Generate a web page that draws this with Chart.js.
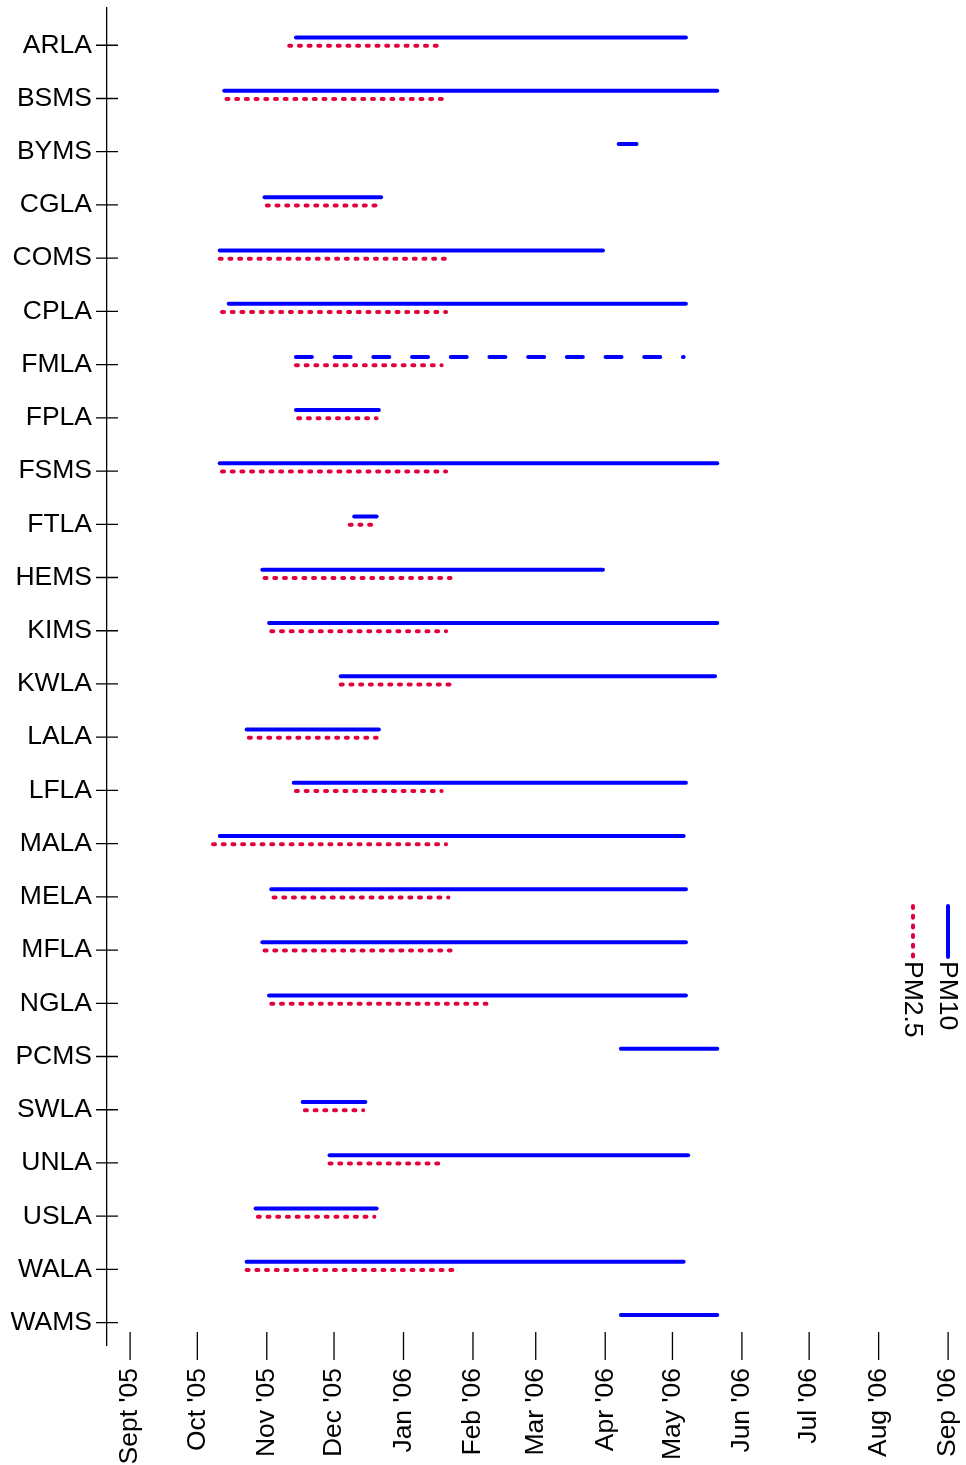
<!DOCTYPE html>
<html>
<head>
<meta charset="utf-8">
<script src="https://cdn.jsdelivr.net/npm/chart.js@4.4.1/dist/chart.umd.min.js"></script>
<style>
  html, body { margin: 0; padding: 0; background: #fff; }
  #wrap { width: 966px; height: 1465px; }
</style>
</head>
<body>
<div id="wrap"><canvas id="chart"></canvas></div>
<script>
const stations = ['ARLA', 'BSMS', 'BYMS', 'CGLA', 'COMS', 'CPLA', 'FMLA', 'FPLA', 'FSMS', 'FTLA',
  'HEMS', 'KIMS', 'KWLA', 'LALA', 'LFLA', 'MALA', 'MELA', 'MFLA', 'NGLA', 'PCMS',
  'SWLA', 'UNLA', 'USLA', 'WALA', 'WAMS'];

const pm10Start = ['2005-11-14', '2005-10-13', '2006-04-07', '2005-10-31', '2005-10-11', '2005-10-15', '2005-11-14', '2005-11-14', '2005-10-11', '2005-12-10',
  '2005-10-30', '2005-11-02', '2005-12-04', '2005-10-23', '2005-11-13', '2005-10-11', '2005-11-03', '2005-10-30', '2005-11-02', '2006-04-08',
  '2005-11-17', '2005-11-29', '2005-10-27', '2005-10-23', '2006-04-08'];
const pm10End = ['2006-05-07', '2006-05-21', '2006-04-15', '2005-12-22', '2006-03-31', '2006-05-07', '2006-05-06', '2005-12-21', '2006-05-21', '2005-12-20',
  '2006-03-31', '2006-05-21', '2006-05-20', '2005-12-21', '2006-05-07', '2006-05-06', '2006-05-07', '2006-05-07', '2006-05-07', '2006-05-21',
  '2005-12-15', '2006-05-08', '2005-12-20', '2006-05-06', '2006-05-21'];

const pm25Start = ['2005-11-11', '2005-10-14', null, '2005-11-01', '2005-10-11', '2005-10-12', '2005-11-14', '2005-11-15', '2005-10-12', '2005-12-08',
  '2005-10-31', '2005-11-03', '2005-12-04', '2005-10-24', '2005-11-14', '2005-10-08', '2005-11-04', '2005-10-31', '2005-11-03', null,
  '2005-11-18', '2005-11-29', '2005-10-28', '2005-10-23', null];
const pm25End = ['2006-01-19', '2006-01-21', null, '2005-12-22', '2006-01-20', '2006-01-20', '2006-01-18', '2005-12-20', '2006-01-20', '2005-12-20',
  '2006-01-22', '2006-01-20', '2006-01-22', '2005-12-20', '2006-01-18', '2006-01-20', '2006-01-21', '2006-01-22', '2006-02-07', null,
  '2005-12-14', '2006-01-19', '2005-12-19', '2006-01-23', null];

// PM10 record with gaps drawn dashed
const pm10Dashed = ['FMLA'];

const tickDates = ['2005-09-01', '2005-10-01', '2005-11-01', '2005-12-01', '2006-01-01', '2006-02-01', '2006-03-01',
  '2006-04-01', '2006-05-01', '2006-06-01', '2006-07-01', '2006-08-01', '2006-09-01'];
const tickLabels = ["Sept '05", "Oct '05", "Nov '05", "Dec '05", "Jan '06", "Feb '06", "Mar '06",
  "Apr '06", "May '06", "Jun '06", "Jul '06", "Aug '06", "Sep '06"];

const BLUE = '#0000ff';
const RED = '#e2003c';
const FONT = "'Liberation Sans', Arial, sans-serif";
const FSIZE = 26.5;

function toDay(s) {
  const p = s.split('-').map(Number);
  return (Date.UTC(p[0], p[1] - 1, p[2]) - Date.UTC(2005, 8, 1)) / 86400000;
}

const datasets = [];
stations.forEach((name, i) => {
  if (pm10Start[i]) {
    const y = i - 0.145;
    datasets.push({
      label: 'PM10',
      data: [{ x: toDay(pm10Start[i]), y: y }, { x: toDay(pm10End[i]), y: y }],
      borderColor: BLUE,
      borderWidth: 4,
      borderCapStyle: 'round',
      borderDash: pm10Dashed.includes(name) ? [16, 22.7] : [],
      pointRadius: 0
    });
  }
  if (pm25Start[i]) {
    const y = i + 0.01;
    datasets.push({
      label: 'PM2.5',
      data: [{ x: toDay(pm25Start[i]), y: y }, { x: toDay(pm25End[i]), y: y }],
      borderColor: RED,
      borderWidth: 4,
      borderCapStyle: 'round',
      borderDash: [2, 7.7],
      pointRadius: 0
    });
  }
});

// tick marks crossing the axes, plus the rotated legend
const axisMarks = {
  id: 'axisMarks',
  afterDraw(chart) {
    const ctx = chart.ctx;
    const xs = chart.scales.x, ys = chart.scales.y;
    ctx.save();
    ctx.strokeStyle = '#000';
    ctx.lineWidth = 1.3;
    ctx.beginPath();
    ys.ticks.forEach(t => {
      const py = ys.getPixelForValue(t.value);
      ctx.moveTo(ys.right - 11, py);
      ctx.lineTo(ys.right + 11, py);
    });
    xs.ticks.forEach(t => {
      const px = xs.getPixelForValue(t.value);
      ctx.moveTo(px, xs.top - 13);
      ctx.lineTo(px, xs.top + 15);
    });
    ctx.stroke();

    // legend
    const items = [
      { label: 'PM10', color: BLUE, dash: [], x: 948 },
      { label: 'PM2.5', color: RED, dash: [2, 7.7], x: 913 }
    ];
    items.forEach(it => {
      ctx.beginPath();
      ctx.strokeStyle = it.color;
      ctx.lineWidth = 4;
      ctx.lineCap = 'round';
      ctx.setLineDash(it.dash);
      ctx.moveTo(it.x, 906);
      ctx.lineTo(it.x, 957);
      ctx.stroke();
      ctx.setLineDash([]);
      ctx.save();
      ctx.translate(it.x, 961);
      ctx.rotate(Math.PI / 2);
      ctx.fillStyle = '#000';
      ctx.font = FSIZE + 'px ' + FONT;
      ctx.textAlign = 'left';
      ctx.textBaseline = 'middle';
      ctx.fillText(it.label, 0, 1);
      ctx.restore();
    });
    ctx.restore();
  }
};

new Chart(document.getElementById('chart'), {
  type: 'line',
  data: { datasets: datasets },
  options: {
    responsive: true,
    maintainAspectRatio: false,
    animation: false,
    layout: { padding: { top: 8, right: 4, left: 0, bottom: 0 } },
    plugins: { legend: { display: false }, tooltip: { enabled: false } },
    scales: {
      x: {
        type: 'linear',
        min: -10.3,
        max: 371.2,
        grid: { drawOnChartArea: false, drawTicks: false },
        border: { display: false },
        afterBuildTicks: s => { s.ticks = tickDates.map(d => ({ value: toDay(d) })); },
        afterFit: s => { s.height = 120; s.paddingLeft = 0; s.paddingRight = 0; },
        ticks: {
          autoSkip: false,
          minRotation: 90,
          maxRotation: 90,
          padding: 23,
          color: '#000',
          font: { family: FONT, size: FSIZE },
          callback: (v, i) => tickLabels[i]
        }
      },
      y: {
        type: 'linear',
        reverse: true,
        min: -0.7,
        max: 24.42,
        grid: { drawOnChartArea: false, drawTicks: false },
        border: { display: true, color: '#000', width: 1.3 },
        afterBuildTicks: s => { s.ticks = stations.map((n, i) => ({ value: i })); },
        afterFit: s => { s.width = 107; s.paddingTop = 0; s.paddingBottom = 0; },
        ticks: {
          padding: 15,
          color: '#000',
          font: { family: FONT, size: FSIZE },
          callback: v => stations[v]
        }
      }
    }
  },
  plugins: [axisMarks]
});
</script>
</body>
</html>
